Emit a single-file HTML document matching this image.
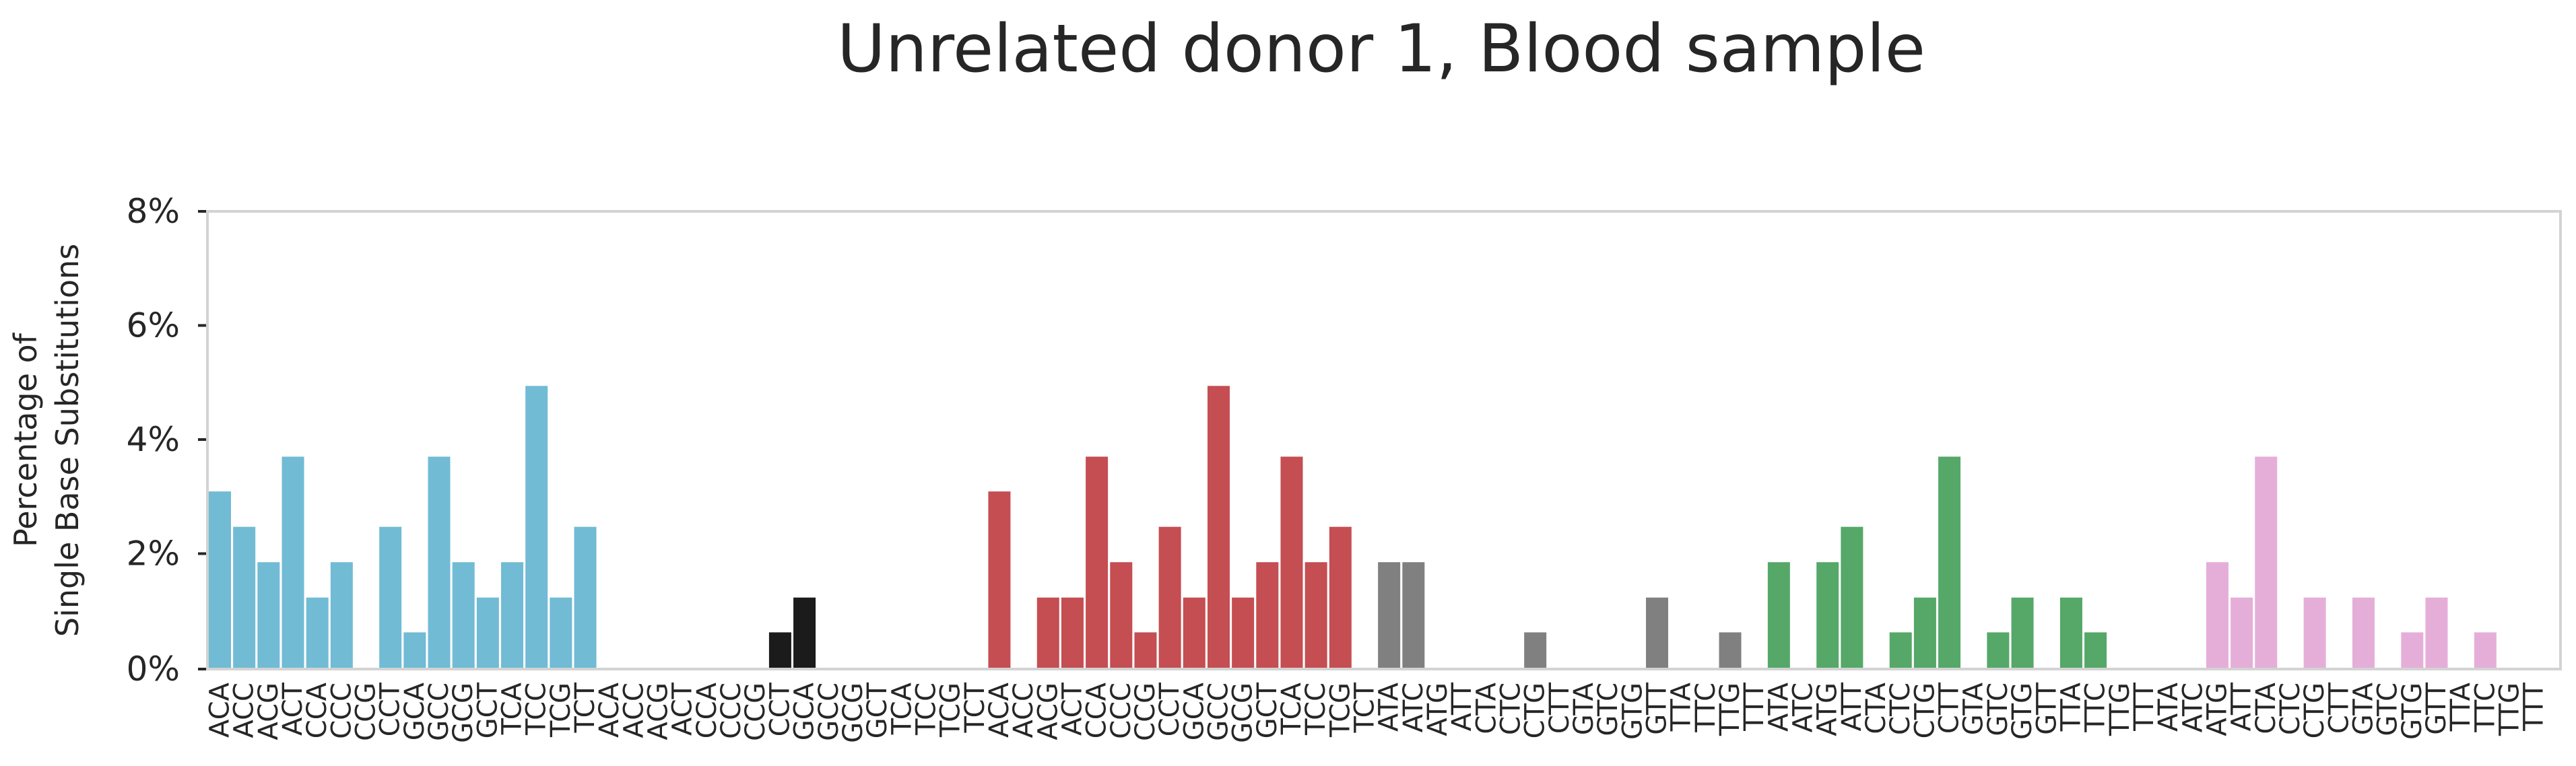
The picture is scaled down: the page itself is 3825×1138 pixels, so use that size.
<!DOCTYPE html>
<html><head><meta charset="utf-8"><style>
html,body{margin:0;padding:0;background:#fff;}
svg{display:block;font-family:"DejaVu Sans","Liberation Sans",sans-serif;}
</style></head><body>
<svg id="chart" width="3825" height="1138" viewBox="0 0 3825 1138" xmlns="http://www.w3.org/2000/svg">
<text x="2051" y="106" font-size="98" text-anchor="middle" fill="#262626">Unrelated donor 1, Blood sample</text>
<g transform="translate(110,654) rotate(-90)">
<text x="0" y="-56" font-size="46" text-anchor="middle" fill="#262626">Percentage of</text>
<text x="0" y="6" font-size="46" text-anchor="middle" fill="#262626">Single Base Substitutions</text>
</g>
<g id="bars"></g>
<g id="xlabels"></g>
<g id="yaxis"></g>
<rect x="308" y="314" width="3494" height="680" fill="none" stroke="#d3d3d3" stroke-width="4"/>
</svg>
<script>
const contexts = ["ACA","ACC","ACG","ACT","CCA","CCC","CCG","CCT","GCA","GCC","GCG","GCT","TCA","TCC","TCG","TCT",
"ACA","ACC","ACG","ACT","CCA","CCC","CCG","CCT","GCA","GCC","GCG","GCT","TCA","TCC","TCG","TCT",
"ACA","ACC","ACG","ACT","CCA","CCC","CCG","CCT","GCA","GCC","GCG","GCT","TCA","TCC","TCG","TCT",
"ATA","ATC","ATG","ATT","CTA","CTC","CTG","CTT","GTA","GTC","GTG","GTT","TTA","TTC","TTG","TTT",
"ATA","ATC","ATG","ATT","CTA","CTC","CTG","CTT","GTA","GTC","GTG","GTT","TTA","TTC","TTG","TTT",
"ATA","ATC","ATG","ATT","CTA","CTC","CTG","CTT","GTA","GTC","GTG","GTT","TTA","TTC","TTG","TTT"];
const valuesCA = [3.09,2.47,1.85,3.70,1.23,1.85,0,2.47,0.62,3.70,1.85,1.23,1.85,4.94,1.23,2.47];
const valuesCG = [0,0,0,0,0,0,0,0.62,1.23,0,0,0,0,0,0,0];
const valuesCT = [3.09,0,1.23,1.23,3.70,1.85,0.62,2.47,1.23,4.94,1.23,1.85,3.70,1.85,2.47,0];
const valuesTA = [1.85,1.85,0,0,0,0,0.62,0,0,0,0,1.23,0,0,0.62,0];
const valuesTC = [1.85,0,1.85,2.47,0,0.62,1.23,3.70,0,0.62,1.23,0,1.23,0.62,0,0];
const valuesTG = [0,0,1.85,1.23,3.70,0,1.23,0,1.23,0,0.62,1.23,0,0.62,0,0];
const groupNames = ["c-to-a","c-to-g","c-to-t","t-to-a","t-to-c","t-to-g"];
const yTicks = [0,2,4,6,8];
const yTickLabels = ["0%","2%","4%","6%","8%"];

const colors = ["#71bbd4","#1b1b1b","#c44e52","#808080","#55a868","#e5aed8"];
const series = [valuesCA,valuesCG,valuesCT,valuesTA,valuesTC,valuesTG];
const NS = "http://www.w3.org/2000/svg";
const X0 = 310, PITCH = 36.17, BW = 33;
const Y0 = 992, YTOP = 314, YMAX = 8;
function xPos(i){ return X0 + i*PITCH; }
function yPos(v){ return Y0 - (v/YMAX)*(Y0-YTOP); }

const gb = document.getElementById('bars');
series.forEach((vals,g)=>{
  vals.forEach((v,k)=>{
    const i = g*16+k;
    const r = document.createElementNS(NS,'rect');
    r.setAttribute('x', xPos(i));
    r.setAttribute('y', yPos(v));
    r.setAttribute('width', BW);
    r.setAttribute('height', Math.max(0, Y0 - yPos(v)));
    r.setAttribute('fill', colors[g]);
    
    
    gb.appendChild(r);
  });
});

const gx = document.getElementById('xlabels');
contexts.forEach((c,i)=>{
  const cx = xPos(i) + BW/2;
  const t = document.createElementNS(NS,'text');
  t.setAttribute('transform', 'translate(' + cx + ',1014) rotate(-90)');
  t.setAttribute('text-anchor', 'end');
  t.setAttribute('dominant-baseline', 'central');
  t.setAttribute('font-size', '40');
  t.setAttribute('fill', '#262626');
  t.textContent = c;
  
  
  gx.appendChild(t);
});

const gy = document.getElementById('yaxis');
yTicks.forEach((v,k)=>{
  const y = yPos(v) + (v===0?2:0);
  const l = document.createElementNS(NS,'line');
  l.setAttribute('x1', 294); l.setAttribute('x2', 308);
  l.setAttribute('y1', y); l.setAttribute('y2', y);
  l.setAttribute('stroke', '#262626'); l.setAttribute('stroke-width', '4');
  
  
  gy.appendChild(l);
  const t = document.createElementNS(NS,'text');
  t.setAttribute('x', 267); t.setAttribute('y', y);
  t.setAttribute('text-anchor', 'end');
  t.setAttribute('dominant-baseline', 'central');
  t.setAttribute('font-size', '50');
  t.setAttribute('fill', '#262626');
  t.textContent = yTickLabels[k];
  
  
  gy.appendChild(t);
});
</script>
</body></html>
